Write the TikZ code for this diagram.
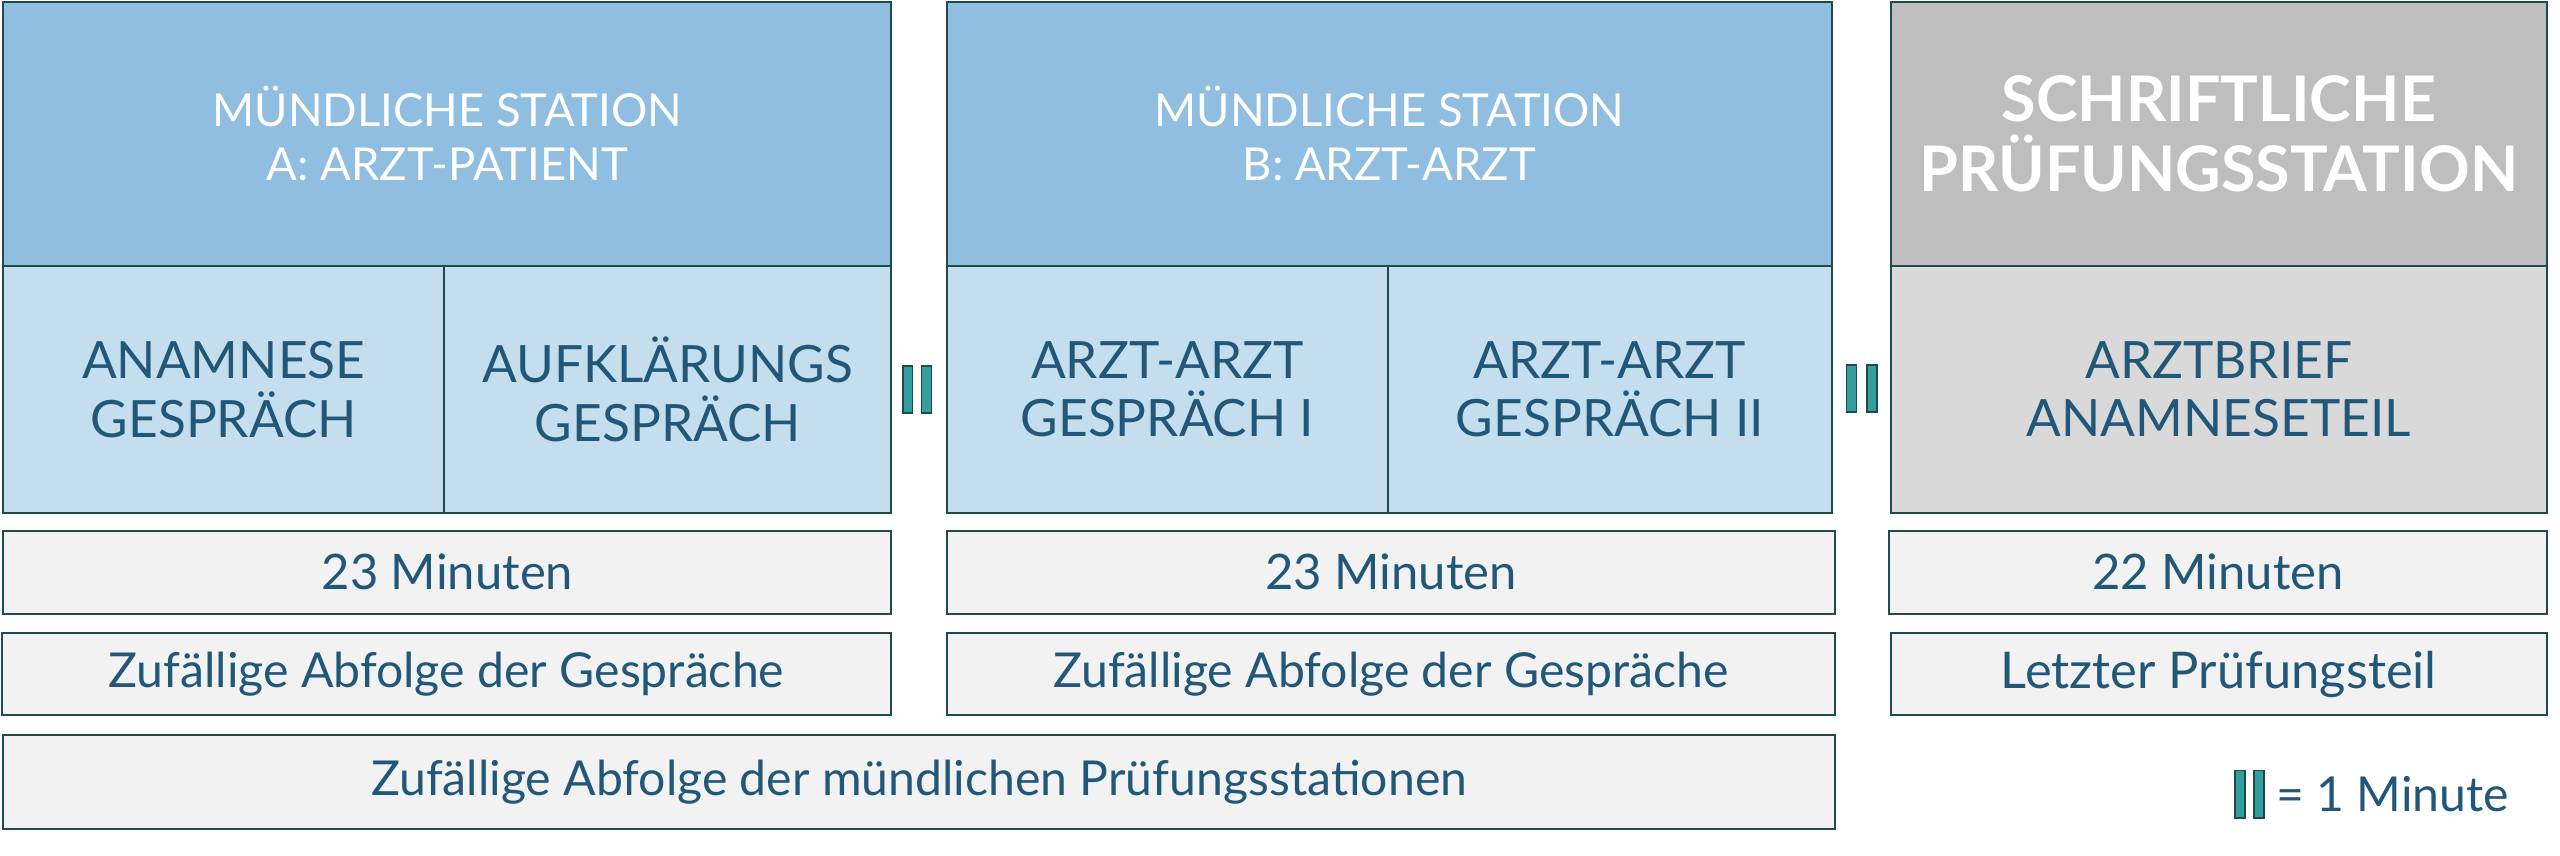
\documentclass[tikz,border=0pt]{standalone}
\usepackage{fontspec}
\setmainfont{Lato}
\usepackage{tikz}
\definecolor{edge}{RGB}{31,74,78}
\definecolor{headblue}{RGB}{143,190,224}
\definecolor{lowblue}{RGB}{197,222,238}
\definecolor{headgray}{RGB}{190,190,190}
\definecolor{lowgray}{RGB}{217,217,217}
\definecolor{rowgray}{RGB}{242,242,242}
\definecolor{textblue}{RGB}{33,88,122}
\definecolor{teal}{RGB}{51,158,156}
\tikzstyle{box}=[draw=edge,line width=1.2pt,inner sep=0pt,align=center]
\tikzstyle{head}=[box,fill=headblue,text=white,minimum height=162pt,font=\fontsize{27.8}{33}\selectfont]
\tikzstyle{part}=[box,fill=lowblue,text=textblue,minimum height=151pt,font=\fontsize{31.5}{36}\selectfont]
\tikzstyle{row}=[box,fill=rowgray,text=textblue,font=\fontsize{30}{32}\selectfont]
\tikzstyle{bar}=[draw=edge,fill=teal,line width=1pt,minimum width=6pt,minimum height=29pt,inner sep=0pt]

\begin{document}
\begin{tikzpicture}[x=1pt,y=1pt]
        \useasboundingbox (0,0) rectangle (1568,-524.3);
        % station A
        \node [head, minimum width=544pt] (headA) at (274,-82) {MÜNDLICHE STATION\\A: ARZT-PATIENT};
        \node [part, minimum width=270pt] (anam) at (137,-238.5) {ANAMNESE\\GESPRÄCH};
        \node [part, minimum width=274pt] (aufk) at (409,-238.5) {AUFKLÄRUNGS\\GESPRÄCH};
        % station B
        \node [head, minimum width=542pt] (headB) at (851,-82) {MÜNDLICHE STATION\\B: ARZT-ARZT};
        \node [part, minimum width=270pt] (arzt1) at (715,-238.5) {ARZT-ARZT\\GESPRÄCH I};
        \node [part, minimum width=272pt] (arzt2) at (986,-238.5) {ARZT-ARZT\\GESPRÄCH II};
        % schriftliche station
        \node [head, fill=headgray, minimum width=402pt, font=\fontsize{38.5}{43}\selectfont\bfseries] (headC) at (1359,-82) {SCHRIFTLICHE\\PRÜFUNGSSTATION};
        \node [part, fill=lowgray, minimum width=402pt] (brief) at (1359,-238.5) {ARZTBRIEF\\ANAMNESETEIL};

        % zeiten
        \node [row, minimum width=544pt, minimum height=51pt] (timeA) at (274,-350.5) {23 Minuten};
        \node [row, minimum width=544pt, minimum height=51pt] (timeB) at (852,-350.5) {23 Minuten};
        \node [row, minimum width=403pt, minimum height=51pt] (timeC) at (1358.5,-350.5) {22 Minuten};
        \node [row, minimum width=545pt, minimum height=50pt, font=\fontsize{29.5}{32}\selectfont] (orderA) at (273.5,-413) {Zufällige Abfolge der Gespräche};
        \node [row, minimum width=544pt, minimum height=50pt, font=\fontsize{29.5}{32}\selectfont] (orderB) at (852,-413) {Zufällige Abfolge der Gespräche};
        \node [row, minimum width=402pt, minimum height=50pt, font=\fontsize{31}{32}\selectfont] (last) at (1359,-413) {Letzter Prüfungsteil};
        \node [row, minimum width=1122pt, minimum height=58pt, font=\fontsize{29.5}{32}\selectfont] (orderAll) at (563,-479) {Zufällige Abfolge der mündlichen Prüfungsstationen};

        % pausen
        \foreach \n/\x/\y in {pa/556/-238.5, pb/567.5/-238.5, pc/1134/-238, pd/1146.5/-238, la/1372/-486.5, lb/1383.5/-486.5}
            \node [bar] (\n) at (\x,\y) {};
        \node [anchor=west, text=textblue, font=\fontsize{29.5}{32}\selectfont, inner sep=0pt] (legend) at ([xshift=7pt]lb.east) {= 1 Minute};
    \end{tikzpicture}
\end{document}
